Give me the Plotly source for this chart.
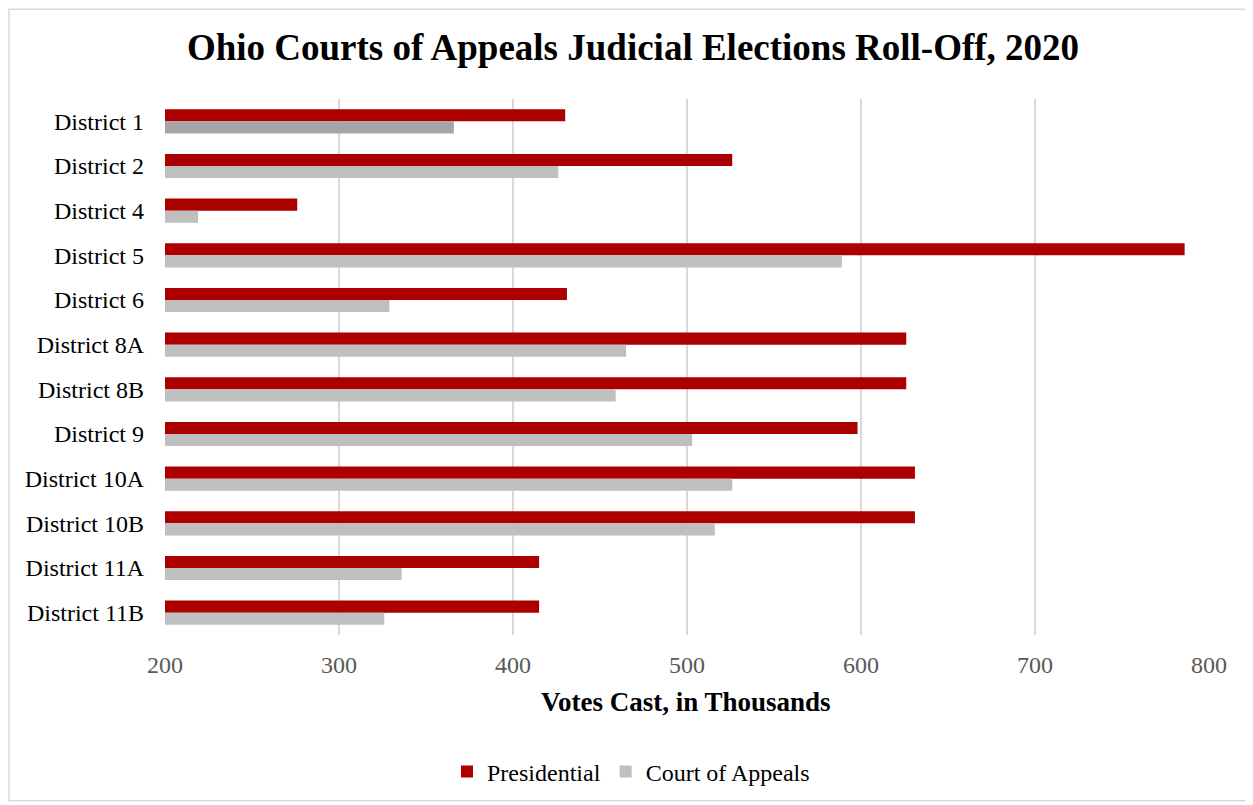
import plotly.graph_objects as go

districts = ["District 1", "District 2", "District 4", "District 5", "District 6",
             "District 8A", "District 8B", "District 9", "District 10A", "District 10B",
             "District 11A", "District 11B"]
presidential = [430, 526, 276, 786, 431, 626, 626, 598, 631, 631, 415, 415]
court_of_appeals = [366, 426, 219, 589, 329, 465, 459, 503, 526, 516, 336, 326]
x_ticks = [200, 300, 400, 500, 600, 700, 800]

RED = "#AC0000"
GRAY = "#BFBFBF"
court_colors = ["#A6A6A6"] + [GRAY] * (len(districts) - 1)

FONT = "Liberation Serif"
OFF = 8  # page body margin

fig = go.Figure()
fig.add_trace(go.Bar(
    y=districts, x=presidential, orientation="h", name="Presidential",
    marker=dict(color=RED, line=dict(width=0)), offsetgroup="p",
))
fig.add_trace(go.Bar(
    y=districts, x=court_of_appeals, orientation="h", name="Court of Appeals",
    marker=dict(color=court_colors, line=dict(width=0)), offsetgroup="c",
    showlegend=False, legendgroup="c",
))
# legend-only entry so the legend swatch uses the regular light gray
fig.add_trace(go.Bar(
    y=[None], x=[None], orientation="h", name="Court of Appeals",
    marker=dict(color=GRAY, line=dict(width=0)), offsetgroup="c",
    showlegend=True, legendgroup="c", hoverinfo="skip",
))

W, H = 1245, 797
L, T = 165 - OFF, 99 - OFF
pw, ph = 1044, 537
R = W - L - pw
B = H - T - ph

def px(xr):
    return (xr - OFF - L) / pw

def py(yr):
    return (H - B - (yr - OFF)) / ph

fig.update_layout(
    width=W, height=H,
    margin=dict(l=L, r=R, t=T, b=B),
    paper_bgcolor="white", plot_bgcolor="white",
    barmode="group", bargap=0.46, bargroupgap=0,
    font=dict(family=FONT, color="black"),
    title=dict(text="<b>Ohio Courts of Appeals Judicial Elections Roll-Off, 2020</b>",
               x=(633 - OFF) / W, xanchor="center", y=1 - (47 - OFF) / H, yanchor="middle",
               font=dict(family=FONT, size=37, color="black")),
    xaxis=dict(range=[200, 800], tickvals=x_ticks, showgrid=True,
               gridcolor="#D9D9D9", gridwidth=1.5, zeroline=False,
               showline=False, tickfont=dict(family=FONT, size=24, color="#595959"),
               ticks="", ticklabelstandoff=13),
    yaxis=dict(autorange="reversed", showgrid=False, showline=False,
               tickfont=dict(family=FONT, size=24, color="black"),
               ticks="", ticklabelstandoff=20),
    legend=dict(orientation="h", x=px(631), xanchor="center", y=py(772), yanchor="middle",
                font=dict(family=FONT, size=24, color="black"), itemwidth=30,
                traceorder="normal"),
    showlegend=True,
    annotations=[dict(text="<b>Votes Cast, in Thousands</b>", xref="paper", yref="paper",
                      x=px(686), y=py(703), xanchor="center", yanchor="middle",
                      showarrow=False, font=dict(family=FONT, size=27, color="black"))],
    shapes=[dict(type="rect", xref="paper", yref="paper",
                 x0=px(OFF + 1), x1=px(1250), y0=py(802), y1=py(OFF + 1),
                 line=dict(color="#D9D9D9", width=1.5), fillcolor="rgba(0,0,0,0)",
                 layer="below")],
)

fig.write_html("out.html")
